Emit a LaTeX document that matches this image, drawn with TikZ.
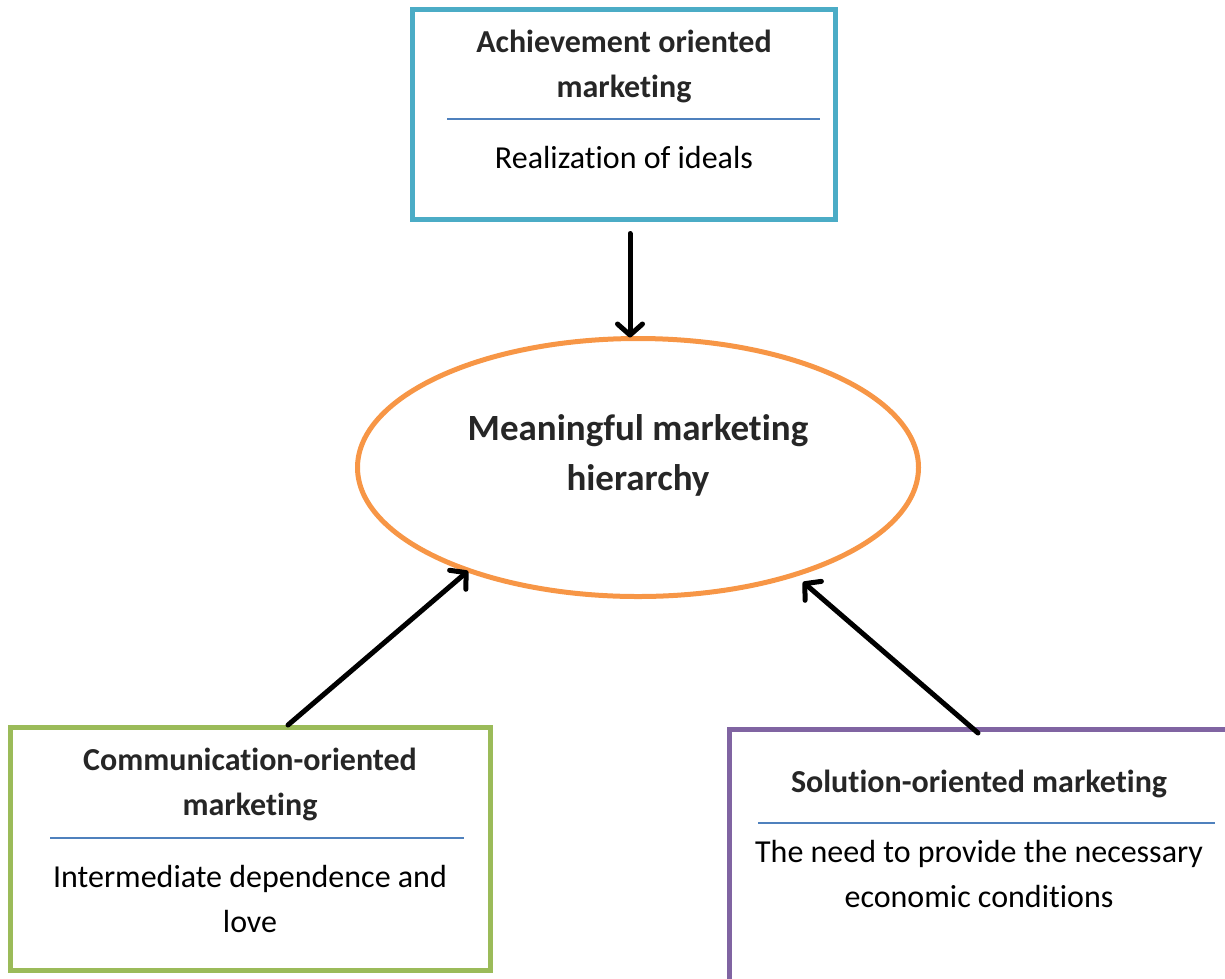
\documentclass[tikz,border=0pt]{standalone}
\usepackage{fontspec}
\setmainfont{Carlito}[Ligatures=NoCommon]
\usetikzlibrary{shapes.geometric,arrows.meta}
\definecolor{boxblue}{HTML}{4BACC6}
\definecolor{boxgreen}{HTML}{9BBB59}
\definecolor{boxpurple}{HTML}{8064A2}
\definecolor{ringorange}{HTML}{F79646}
\definecolor{ruleblue}{HTML}{4F81BD}
\definecolor{titlegray}{HTML}{262626}
\begin{document}
\begin{tikzpicture}[x=1pt,y=-1pt,
  framebox/.style={draw, line width=5pt, rectangle, outer sep=0pt, inner sep=0pt},
  sepline/.style={draw=ruleblue, line width=1.5pt},
  headtext/.style={anchor=base, align=center, text=titlegray,
    font=\fontsize{32}{45}\selectfont\bfseries},
  bodytext/.style={anchor=base, align=center, text=black,
    font=\fontsize{32}{45}\selectfont},
  conn/.style={draw=black, line width=5pt, line cap=round,
    -{Straight Barb[length=11pt,width=25pt,round]}}]
\useasboundingbox (0,0) rectangle (1225,978);
\clip (0,0) rectangle (1225,978);

% frames
\node[framebox, draw=boxblue, minimum width=423pt, minimum height=210pt, anchor=north west]
  (ach) at (412.5,9.5) {};
\node[framebox, draw=boxgreen, minimum width=480pt, minimum height=243pt, anchor=north west]
  (comm) at (10.5,727.5) {};
\node[framebox, draw=boxpurple, minimum width=540pt, minimum height=290pt, anchor=north west]
  (sol) at (729.5,729.5) {};

% central ellipse (base anchor of a two-line text sits on its last line)
\node[ellipse, draw=ringorange, line width=5pt, minimum width=561pt, minimum height=258pt,
  inner sep=0pt, outer sep=0pt] (ell) at (638,467.5) {};
\node[anchor=base, align=center, text=titlegray, font=\fontsize{37}{50}\selectfont\bfseries]
  (ellt) at (638,490) {Meaningful marketing\\hierarchy};

% top frame contents
\node[headtext] (acht) at (624,97) {Achievement oriented\\marketing};
\draw[sepline] ([xshift=34.5pt]ach.west |- 0,119) coordinate (achl)
  -- ([xshift=-16pt]ach.east |- 0,119) coordinate (achr);
\node[bodytext] (achb) at (624,168) {Realization of ideals};

% left frame contents
\node[headtext] (commt) at (250,815) {Communication-oriented\\marketing};
\draw[sepline] ([xshift=39.5pt]comm.west |- 0,838) coordinate (comml)
  -- ([xshift=-27pt]comm.east |- 0,838) coordinate (commr);
\node[bodytext] (commb) at (250,932) {Intermediate dependence and\\love};

% right frame contents
\node[headtext] (solt) at (979,792) {Solution-oriented marketing};
\draw[sepline] ([xshift=28.5pt]sol.west |- 0,823) coordinate (soll)
  -- (1215,823) coordinate (solr);
\node[bodytext] (solb) at (979,907) {The need to provide the necessary\\economic conditions};

% connectors
\draw[conn] ([xshift=6pt,yshift=-14pt]ach.south) -- ([xshift=-8pt,yshift=1pt]ell.north);
\draw[conn] ([xshift=37.5pt,yshift=2.5pt]comm.north) -- ([xshift=-170pt,yshift=-103.5pt]ell.center);
\draw[conn] ([xshift=248.5pt,yshift=-3.5pt]sol.north west) -- ([xshift=165pt,yshift=-114.5pt]ell.center);
\end{tikzpicture}
\end{document}
